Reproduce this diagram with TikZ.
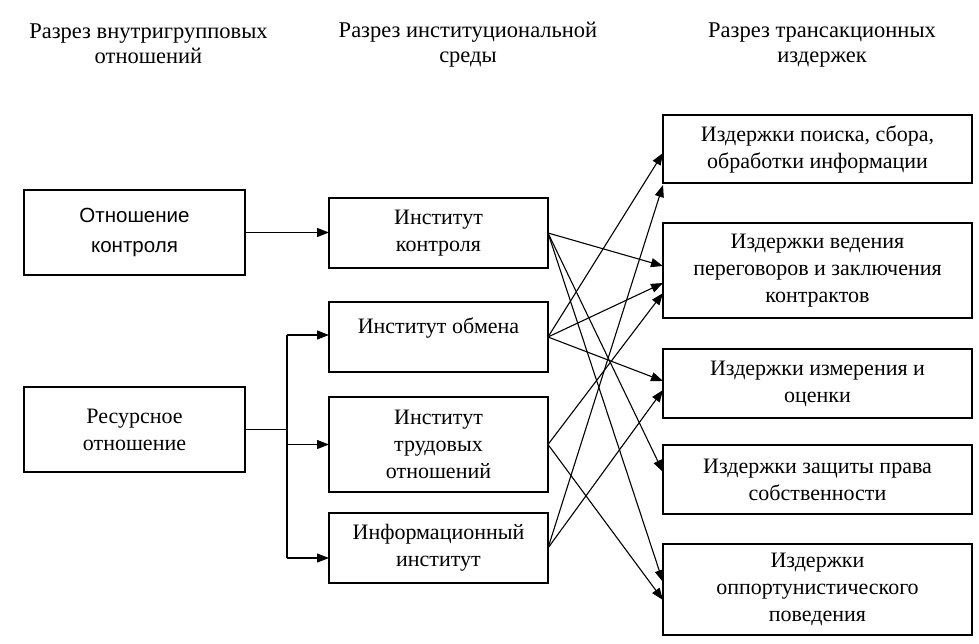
\documentclass[tikz,border=0pt]{standalone}
\usepackage{fontspec}
\setmainfont{Liberation Serif}
\newfontfamily\arialf{Liberation Sans}
\usetikzlibrary{arrows.meta,calc}
\begin{document}
\begin{tikzpicture}[x=1pt,y=-1pt,
  every node/.style={inner sep=0pt,outer sep=0pt},
  txt/.style={font=\fontsize{22}{27}\selectfont,align=center},
  head/.style={font=\fontsize{22.5}{25}\selectfont,align=center},
  boxA/.style={draw,line width=2.4pt,txt},
  arr/.style={line width=1.1pt,-{Triangle[length=12pt,width=9pt]}},
  plain/.style={line width=1.1pt}]
\useasboundingbox (0,0) rectangle (979,644);
% headers
\node[head] (h1) at (148.5,44) {Разрез внутригрупповых\\отношений};
\node[head] (h2) at (468,45) {Разрез институциональной\\среды};
\node[head] (h3) at (822,45) {Разрез трансакционных\\издержек};
% left boxes
\node[boxA,minimum width=221pt,minimum height=85pt,font=\arialf\fontsize{20.5}{30}\selectfont] (l1) at (134.5,232.5) {Отношение\\контроля};
\node[boxA,minimum width=221pt,minimum height=85pt] (l2) at (134.5,429.5) {Ресурсное\\отношение};
% middle boxes
\node[boxA,minimum width=219pt,minimum height=70pt] (m1) at (438.5,233) {Институт\\контроля};
\node[draw,line width=2.4pt,minimum width=219pt,minimum height=70pt] (m2) at (438.5,337) {};
\node[txt] (m2t) at (438.5,328) {Институт обмена};
\node[boxA,minimum width=219pt,minimum height=95pt] (m3) at (438.5,444.5) {Институт\\трудовых\\отношений};
\node[boxA,minimum width=219pt,minimum height=70pt] (m4) at (438.5,548) {Информационный\\институт};
% right boxes
\node[boxA,minimum width=309pt,minimum height=68pt] (r1) at (817.5,149) {Издержки поиска, сбора,\\обработки информации};
\node[boxA,minimum width=309pt,minimum height=95pt] (r2) at (817.5,270.5) {Издержки ведения\\переговоров и заключения\\контрактов};
\node[boxA,minimum width=309pt,minimum height=69pt] (r3) at (817.5,383.5) {Издержки измерения и\\оценки};
\node[boxA,minimum width=309pt,minimum height=69pt] (r4) at (817.5,479.5) {Издержки защиты права\\собственности};
\node[boxA,minimum width=309pt,minimum height=91pt] (r5) at (817.5,589.5) {Издержки\\оппортунистического\\поведения};
% left connectors
\draw[arr] (l1.east) -- (l1.east -| m1.west);
\coordinate (j) at (287,429.5);
\coordinate (jt) at (287,335);
\coordinate (jb) at (287,558);
\draw[plain] (l2.east) -- (j);
\draw[plain] (jt) -- (jb);
\draw[arr] (jt) -- (jt -| m2.west);
\draw[arr] (j |- m3.west) -- (m3.west);
\draw[arr] (jb) -- (jb -| m4.west);
% cross connectors
\draw[arr] (m1.east) -- ([yshift=4.5pt]r2.west);
\draw[arr] (m1.east) -- ([yshift=7.5pt]r4.west);
\draw[arr] (m1.east) -- ([yshift=7.5pt]r5.west);
\draw[arr] (m2.east) -- ([yshift=-4pt]r1.west);
\draw[arr] (m2.east) -- ([yshift=-12.5pt]r2.west);
\draw[arr] (m2.east) -- ([yshift=2.5pt]r3.west);
\draw[arr] (m3.east) -- ([yshift=-22.5pt]r2.west);
\draw[arr] (m3.east) -- ([yshift=-10.5pt]r5.west);
\draw[arr] (m4.east) -- ([yshift=-2pt]r1.south west);
\draw[arr] (m4.east) -- ([yshift=-6.5pt]r3.west);
\end{tikzpicture}
\end{document}
